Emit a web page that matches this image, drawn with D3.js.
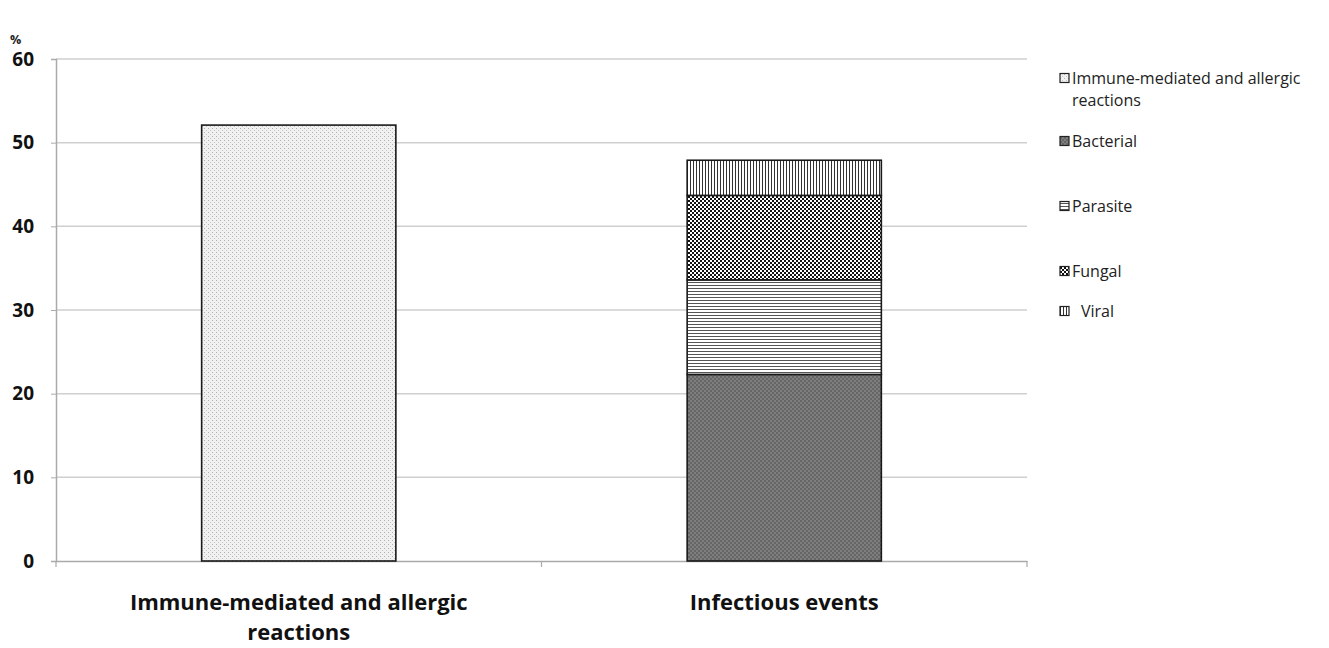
<!DOCTYPE html>
<html>
<head>
<meta charset="utf-8">
<script src="https://d3js.org/d3.v7.min.js"></script>
<style>
  body { margin: 0; background: #fff; font-family: "Open Sans", "Noto Sans", Arial, sans-serif; }
  .ytick text { font-family: "Open Sans", sans-serif; font-size: 19px; font-weight: bold; fill: #111; }
  .cat { font-family: "Open Sans", sans-serif; font-size: 22px; font-weight: bold; fill: #111; }
  .leg { font-family: "Open Sans", sans-serif; font-size: 16px; fill: #222; }
</style>
</head>
<body>
<div id="chart"></div>
<script>
// categories on x
var categories = ["Immune-mediated and allergic reactions", "Infectious events"];
// stacked series (bottom to top), one value per category
var seriesNames = ["Immune-mediated and allergic reactions", "Bacterial", "Parasite", "Fungal", "Viral"];
var immuneVals    = [52.1, 0];
var bacterialVals = [0, 22.3];
var parasiteVals  = [0, 11.3];
var fungalVals    = [0, 10.1];
var viralVals     = [0, 4.2];
var yTicks = [0, 10, 20, 30, 40, 50, 60];

var width = 1329, height = 648;
var plot = {left: 56, right: 1027, top: 59, bottom: 561};

var svg = d3.select("#chart").append("svg")
    .attr("width", width).attr("height", height);

// ---- patterns
var defs = svg.append("defs");
var pId = ["p-immune", "p-bact", "p-para", "p-fung", "p-viral"];

var p0 = defs.append("pattern").attr("id", pId[0]).attr("width", 4).attr("height", 4).attr("patternUnits", "userSpaceOnUse");
p0.append("rect").attr("width", 4).attr("height", 4).attr("fill", "#f1f1f1");
p0.append("rect").attr("x", 0).attr("y", 0).attr("width", 1).attr("height", 1).attr("fill", "#b0b0b0");
p0.append("rect").attr("x", 2).attr("y", 2).attr("width", 1).attr("height", 1).attr("fill", "#c4c4c4");

var p1 = defs.append("pattern").attr("id", pId[1]).attr("width", 4).attr("height", 4).attr("patternUnits", "userSpaceOnUse");
p1.append("rect").attr("width", 4).attr("height", 4).attr("fill", "#7e7e7e");
p1.append("rect").attr("x", 0).attr("y", 0).attr("width", 2).attr("height", 2).attr("fill", "#666");
p1.append("rect").attr("x", 2).attr("y", 2).attr("width", 2).attr("height", 2).attr("fill", "#666");

var p2 = defs.append("pattern").attr("id", pId[2]).attr("width", 4).attr("height", 3).attr("patternUnits", "userSpaceOnUse");
p2.append("rect").attr("width", 4).attr("height", 3).attr("fill", "#fff");
p2.append("rect").attr("y", 0).attr("width", 4).attr("height", 1).attr("fill", "#555");

var p3 = defs.append("pattern").attr("id", pId[3]).attr("width", 4).attr("height", 4).attr("patternUnits", "userSpaceOnUse");
p3.append("rect").attr("width", 4).attr("height", 4).attr("fill", "#fff");
p3.append("rect").attr("x", 0).attr("y", 0).attr("width", 2).attr("height", 2).attr("fill", "#111");
p3.append("rect").attr("x", 2).attr("y", 2).attr("width", 2).attr("height", 2).attr("fill", "#111");

var p4 = defs.append("pattern").attr("id", pId[4]).attr("width", 3).attr("height", 4).attr("patternUnits", "userSpaceOnUse");
p4.append("rect").attr("width", 3).attr("height", 4).attr("fill", "#fff");
p4.append("rect").attr("x", 0).attr("width", 1).attr("height", 4).attr("fill", "#333");

// ---- scales
var x = d3.scaleBand().domain(categories).range([plot.left, plot.right])
    .paddingInner(0.6).paddingOuter(0.3);
var y = d3.scaleLinear().domain([0, 60]).range([plot.bottom, plot.top]);

// gridlines
svg.append("g").selectAll("line").data(yTicks.filter(function(d) { return d > 0; })).enter()
  .append("line")
    .attr("x1", plot.left).attr("x2", plot.right)
    .attr("y1", function(d) { return y(d); }).attr("y2", function(d) { return y(d); })
    .attr("stroke", "#cfcfcf").attr("stroke-width", 1.5);

// y axis
var yAxis = svg.append("g").attr("class", "ytick")
    .attr("transform", "translate(" + plot.left + ",0)")
    .call(d3.axisLeft(y).tickValues(yTicks).tickSize(5).tickPadding(17));
yAxis.attr("font-family", null);
yAxis.select(".domain").attr("stroke", "#aaa").attr("stroke-width", 1.5);
yAxis.selectAll(".tick line").attr("stroke", "#aaa");

// x axis
var xAxis = svg.append("g")
    .attr("transform", "translate(0," + plot.bottom + ")")
    .call(d3.axisBottom(x).tickValues([]).tickSizeOuter(0));
xAxis.select(".domain").attr("stroke", "#aaa").attr("stroke-width", 1.5);
// category divider ticks
var divs = [plot.left, (plot.left + plot.right) / 2, plot.right];
svg.append("g").selectAll("line").data(divs).enter().append("line")
    .attr("x1", function(d) { return d; }).attr("x2", function(d) { return d; })
    .attr("y1", plot.bottom).attr("y2", plot.bottom + 6)
    .attr("stroke", "#aaa").attr("stroke-width", 1.2);

svg.append("text").attr("x", 10).attr("y", 44).text("%")
    .style("font-family", "Open Sans, sans-serif")
    .style("font-size", "12.5px").style("font-weight", "bold").attr("fill", "#222");

// ---- stacked bars
var table = categories.map(function(c, i) {
  return {cat: c, s0: immuneVals[i], s1: bacterialVals[i], s2: parasiteVals[i], s3: fungalVals[i], s4: viralVals[i]};
});
var stack = d3.stack().keys(["s0", "s1", "s2", "s3", "s4"]);
var layers = stack(table);

svg.append("g").selectAll("g").data(layers).enter().append("g")
    .attr("fill", function(d, i) { return "url(#" + pId[i] + ")"; })
  .selectAll("rect")
  .data(function(d) { return d.filter(function(s) { return s[1] - s[0] > 0; }); })
  .enter().append("rect")
    .attr("x", function(d) { return x(d.data.cat); })
    .attr("width", x.bandwidth())
    .attr("y", function(d) { return y(d[1]); })
    .attr("height", function(d) { return y(d[0]) - y(d[1]); })
    .attr("stroke", "#1a1a1a").attr("stroke-width", 1.6);

// category labels
var catLines = [["Immune-mediated and allergic", "reactions"], ["Infectious events"]];
categories.forEach(function(c, i) {
  var t = svg.append("text").attr("class", "cat").attr("text-anchor", "middle")
      .attr("x", x(c) + x.bandwidth() / 2).attr("y", 610);
  catLines[i].forEach(function(l, j) {
    t.append("tspan").attr("x", x(c) + x.bandwidth() / 2).attr("dy", j === 0 ? 0 : 30).text(l);
  });
});

// ---- legend (row centres)
var legY = [78, 141, 206, 271, 311];
var legLines = [["Immune-mediated and allergic", "reactions"], ["Bacterial"], ["Parasite"], ["Fungal"], ["Viral"]];
var leg = svg.append("g");
seriesNames.forEach(function(n, i) {
  var g = leg.append("g").attr("transform", "translate(1060," + legY[i] + ")");
  g.append("rect").attr("x", 0).attr("y", -4.5).attr("width", 9).attr("height", 9)
      .attr("fill", "url(#" + pId[i] + ")").attr("stroke", "#222").attr("stroke-width", 1.2);
  var tx = i === 4 ? 21 : 12;
  var t = g.append("text").attr("class", "leg").attr("x", tx).attr("y", 6);
  legLines[i].forEach(function(l, j) {
    t.append("tspan").attr("x", tx).attr("dy", j === 0 ? 0 : 22).text(l);
  });
});
</script>
</body>
</html>
